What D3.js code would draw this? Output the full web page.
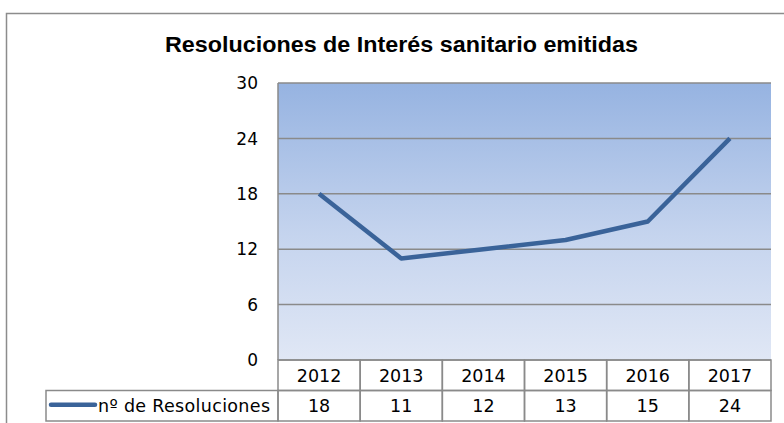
<!DOCTYPE html>
<html lang="es">
<head>
<meta charset="UTF-8">
<title>Resoluciones de Interés sanitario emitidas</title>
<script src="https://d3js.org/d3.v7.min.js"></script>
<style>
    body { margin: 0; background: #fff; }
    text { font-family: "DejaVu Sans", sans-serif; fill: #000; }
    .title { font-family: "Liberation Sans", sans-serif; font-weight: bold; font-size: 22px; }
    .grid line { stroke: #8a8a8a; stroke-width: 1.5px; }
    .cell { stroke: #8a8a8a; stroke-width: 1.5px; fill: none; }
</style>
</head>
<body>
<svg width="784" height="423"></svg>
<script>
    const years = ["2012", "2013", "2014", "2015", "2016", "2017"];
    const values = [18, 11, 12, 13, 15, 24];
    const yTicks = [0, 6, 12, 18, 24, 30];
    const seriesName = "nº de Resoluciones";

    const svg = d3.select('svg');
    const plot = {left: 278, right: 771, top: 83, bottom: 360};
    const rowH = 30.5;

    // frame
    svg.append('rect').attr('x', 6.5).attr('y', 13.5).attr('width', 800).attr('height', 430)
        .attr('fill', 'none').attr('stroke', '#8c8c8c').attr('stroke-width', 1.5);

    svg.append('text').attr('class', 'title').attr('x', 165).attr('y', 52)
        .attr('textLength', 473).attr('lengthAdjust', 'spacingAndGlyphs')
        .text('Resoluciones de Interés sanitario emitidas');

    const defs = svg.append('defs');
    const grad = defs.append('linearGradient').attr('id', 'bg').attr('x1', 0).attr('y1', 0).attr('x2', 0).attr('y2', 1);
    grad.append('stop').attr('offset', '0%').attr('stop-color', '#96b3e1');
    grad.append('stop').attr('offset', '55%').attr('stop-color', '#c5d4ee');
    grad.append('stop').attr('offset', '100%').attr('stop-color', '#e0e7f5');

    const x = d3.scaleBand().domain(years).range([plot.left, plot.right]);
    const y = d3.scaleLinear().domain([0, 30]).range([plot.bottom, plot.top]);

    svg.append('rect').attr('x', plot.left).attr('y', plot.top)
        .attr('width', plot.right - plot.left).attr('height', plot.bottom - plot.top)
        .attr('fill', 'url(#bg)');

    svg.append('g').attr('class', 'grid').selectAll('line').data(yTicks).join('line')
        .attr('x1', plot.left).attr('x2', plot.right)
        .attr('y1', d => y(d)).attr('y2', d => y(d));
    svg.append('line').attr('x1', plot.left).attr('x2', plot.left)
        .attr('y1', plot.top).attr('y2', plot.bottom)
        .attr('stroke', '#8a8a8a').attr('stroke-width', 1.5);

    svg.append('g').selectAll('text').data(yTicks).join('text')
        .attr('x', 258).attr('y', d => y(d)).attr('dy', '0.36em')
        .attr('text-anchor', 'end').attr('font-size', 17).text(d => d);

    const line = d3.line().x((d, i) => x(years[i]) + x.bandwidth() / 2).y(d => y(d));
    svg.append('path').datum(values).attr('d', line)
        .attr('fill', 'none').attr('stroke', '#3a6399').attr('stroke-width', 4.5)
        .attr('stroke-linejoin', 'round');

    // data table
    const table = svg.append('g');
    years.forEach((yr, i) => {
        table.append('rect').attr('class', 'cell').attr('x', x(yr)).attr('y', plot.bottom)
            .attr('width', x.bandwidth()).attr('height', rowH);
        table.append('rect').attr('class', 'cell').attr('x', x(yr)).attr('y', plot.bottom + rowH)
            .attr('width', x.bandwidth()).attr('height', rowH);
        table.append('text').attr('x', x(yr) + x.bandwidth() / 2).attr('y', plot.bottom + rowH / 2)
            .attr('dy', '0.36em').attr('text-anchor', 'middle').attr('font-size', 17.5).text(yr);
        table.append('text').attr('x', x(yr) + x.bandwidth() / 2).attr('y', plot.bottom + rowH * 1.5)
            .attr('dy', '0.36em').attr('text-anchor', 'middle').attr('font-size', 17.5).text(values[i]);
    });
    table.append('rect').attr('class', 'cell').attr('x', 46).attr('y', plot.bottom + rowH)
        .attr('width', plot.left - 46).attr('height', rowH);
    table.append('line').attr('x1', 51).attr('x2', 95)
        .attr('y1', plot.bottom + rowH * 1.5 - 1).attr('y2', plot.bottom + rowH * 1.5 - 1)
        .attr('stroke', '#3a6399').attr('stroke-width', 4.5).attr('stroke-linecap', 'round');
    table.append('text').attr('x', 98).attr('y', plot.bottom + rowH * 1.5)
        .attr('dy', '0.36em').attr('font-size', 17.5)
        .attr('textLength', 172).attr('lengthAdjust', 'spacing').text(seriesName);
</script>
</body>
</html>
